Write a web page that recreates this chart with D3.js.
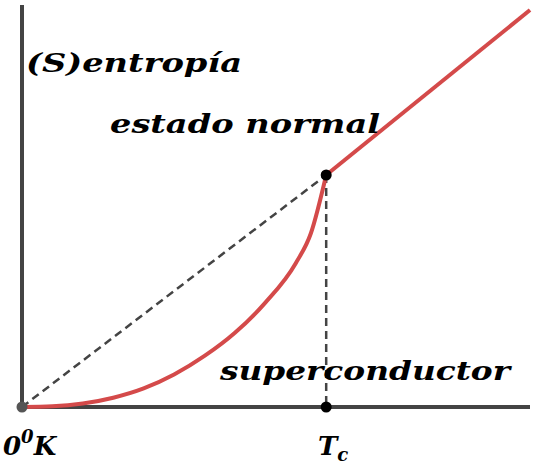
<!DOCTYPE html>
<html>
<head>
<meta charset="utf-8">
<script src="https://d3js.org/d3.v7.min.js"></script>
<style>body{margin:0;background:#fff}text{font-family:"DejaVu Serif",serif;font-weight:bold;font-style:italic}</style>
</head>
<body>
<script>
// superconducting branch (T / Tc, S / S(Tc))
var superT = [0, 0.1, 0.2, 0.3, 0.4, 0.5, 0.6, 0.7, 0.8, 0.9, 0.95, 1];
var superS = [0, 0.003, 0.015, 0.04, 0.08, 0.14, 0.22, 0.32, 0.45, 0.62, 0.75, 1];
// normal branch
var normalT = [1, 1.67];
var normalS = [1, 1.711];

var width = 543, height = 470;
var x = d3.scaleLinear().domain([0, 1.67]).range([22, 530]);
var y = d3.scaleLinear().domain([0, 1]).range([407, 175]);

var svg = d3.select("body").append("svg").attr("width", width).attr("height", height);

// axes
svg.append("line").attr("x1", x(0)).attr("x2", x(0)).attr("y1", 5).attr("y2", y(0))
	.attr("stroke", "#444").attr("stroke-width", 4);
svg.append("line").attr("x1", x(0)).attr("x2", x(1.67)).attr("y1", y(0)).attr("y2", y(0))
	.attr("stroke", "#444").attr("stroke-width", 4);

// dashed guides
svg.append("line").attr("x1", x(0)).attr("y1", y(0)).attr("x2", x(1)).attr("y2", y(1))
	.attr("stroke", "#444").attr("stroke-width", 2.5).attr("stroke-dasharray", "8,5");
svg.append("line").attr("x1", x(1)).attr("y1", y(1)).attr("x2", x(1)).attr("y2", y(0))
	.attr("stroke", "#444").attr("stroke-width", 2.5).attr("stroke-dasharray", "8,5");

var line = d3.line().x(function(d){ return x(d[0]); }).y(function(d){ return y(d[1]); }).curve(d3.curveMonotoneX);
svg.append("path").datum(d3.zip(superT, superS)).attr("d", line)
	.attr("fill", "none").attr("stroke", "#d44a4a").attr("stroke-width", 4);
svg.append("path").datum(d3.zip(normalT, normalS)).attr("d", line)
	.attr("fill", "none").attr("stroke", "#d44a4a").attr("stroke-width", 4);

// points
[[0, 0, "#555"], [1, 0, "#000"], [1, 1, "#000"]].forEach(function(p){
	svg.append("circle").attr("cx", x(p[0])).attr("cy", y(p[1])).attr("r", 5.5).attr("fill", p[2]);
});

// labels
function label(t, px, py, w){
	var s = svg.append("text").attr("x", px).attr("y", py).attr("font-size", 26).text(t);
	if (w) s.attr("textLength", w).attr("lengthAdjust", "spacingAndGlyphs");
	return s;
}
label("(S)entropía", 26, 72, 216);
label("estado normal", 110, 133, 270);
label("superconductor", 220, 380, 290);
var k = label("0", 3, 455);
k.append("tspan").attr("dy", -12).attr("font-size", 18).text("0");
k.append("tspan").attr("dy", 12).text("K");
var tc = label("T", 318, 455);
tc.append("tspan").attr("dy", 6).attr("font-size", 18).text("c");
</script>
</body>
</html>
